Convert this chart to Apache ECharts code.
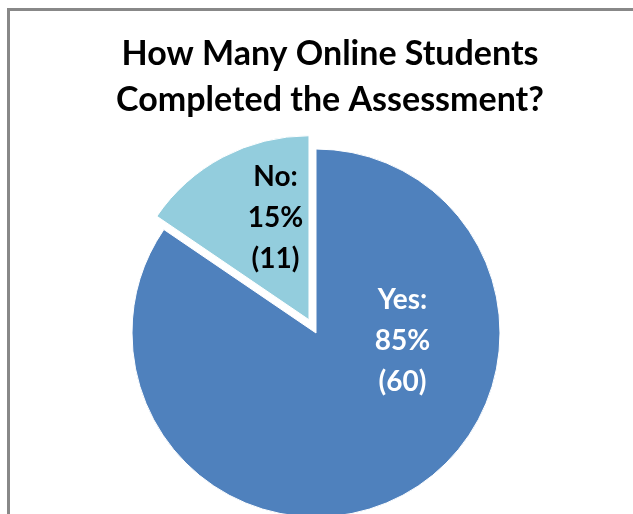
<!DOCTYPE html>
<html>
<head>
<meta charset="utf-8">
<script src="https://cdn.jsdelivr.net/npm/echarts@6/dist/echarts.min.js"></script>
<style>
html,body{margin:0;padding:0;background:#fff;}
#c{width:633px;height:514px;}
</style>
</head>
<body>
<div id="c"></div>
<script>
var titleLines = ["How Many Online Students", "Completed the Assessment?"];
var categories = ["Yes", "No"];
var counts = [60, 11];
var percents = ["85%", "15%"];
var colors = ["#4F81BD", "#93CDDD"];
var labelColors = ["#ffffff", "#000000"];

var chart = echarts.init(document.getElementById('c'));
var data = categories.map(function (c, i) {
  return {
    name: c,
    value: counts[i],
    selected: c === "No",
    itemStyle: { color: colors[i] },
    label: { color: labelColors[i] }
  };
});
var labelShift = { Yes: [42, -76], No: [11, -18] };
chart.setOption({
  animation: false,
  graphic: [{
    type: 'rect',
    shape: { x: 8.5, y: 9.5, width: 700, height: 600 },
    style: { fill: 'none', stroke: '#888888', lineWidth: 3 },
    silent: true
  }],
  title: {
    text: titleLines.join('\n'),
    left: 325,
    top: 26,
    textAlign: 'center',
    textStyle: {
      fontFamily: 'Lato',
      fontWeight: 'bold',
      fontSize: 34,
      lineHeight: 46,
      color: '#000'
    }
  },
  series: [{
    type: 'pie',
    center: [316, 333],
    radius: [0, 184],
    startAngle: 90,
    clockwise: true,
    selectedMode: 'single',
    selectedOffset: 15,
    itemStyle: { borderColor: '#fff', borderWidth: 1 },
    label: {
      show: true,
      position: 'inside',
      fontFamily: 'Lato',
      fontWeight: 'bold',
      fontSize: 28,
      lineHeight: 41,
      align: 'center',
      formatter: function (p) {
        return p.name + ':\n' + percents[p.dataIndex] + '\n(' + p.value + ')';
      }
    },
    labelLayout: function (p) {
      var s = labelShift[categories[p.dataIndex]];
      return { dx: s[0], dy: s[1] };
    },
    emphasis: { disabled: true },
    data: data
  }]
});
</script>
</body>
</html>
